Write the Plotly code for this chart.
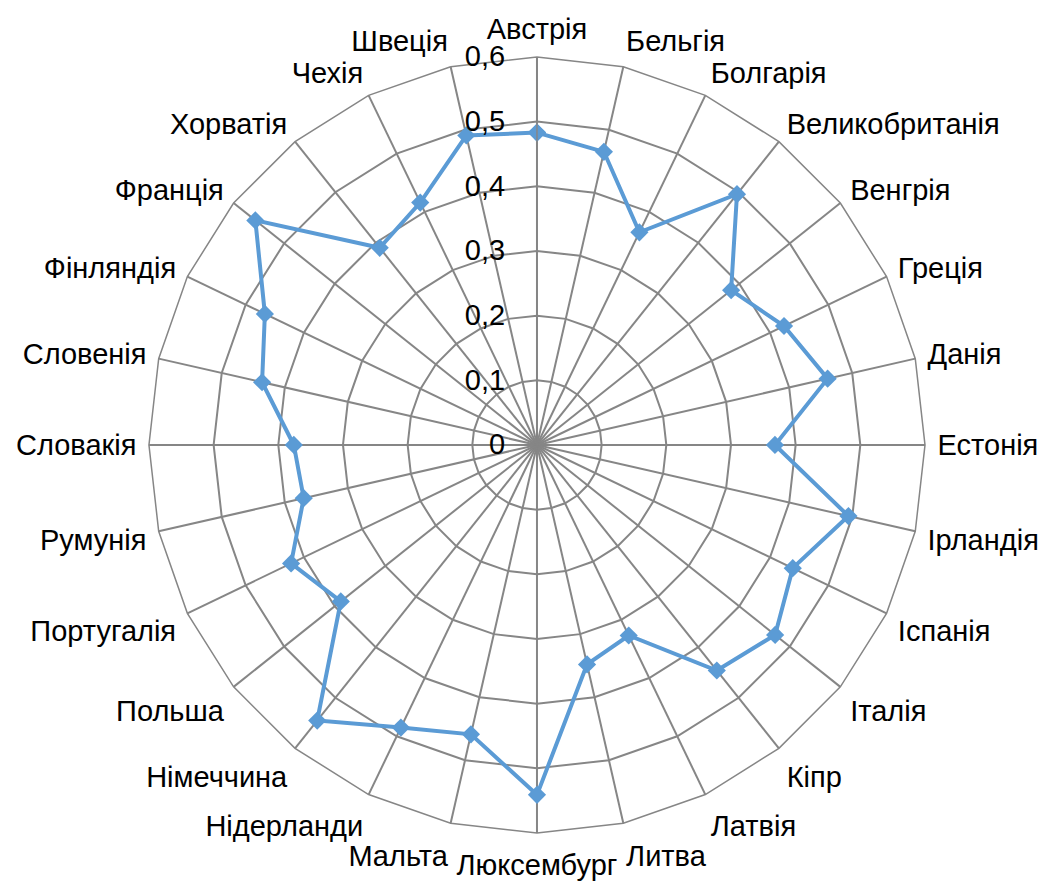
import plotly.graph_objects as go

countries = ["Австрія", "Бельгія", "Болгарія", "Великобританія", "Венгрія", "Греція",
             "Данія", "Естонія", "Ірландія", "Іспанія", "Італія", "Кіпр", "Латвія",
             "Литва", "Люксембург", "Мальта", "Нідерланди", "Німеччина", "Польша",
             "Португалія", "Румунія", "Словакія", "Словенія", "Фінляндія", "Франція",
             "Хорватія", "Чехія", "Швеція"]
values = [0.483, 0.465, 0.365, 0.496, 0.384, 0.424,
          0.461, 0.368, 0.494, 0.439, 0.471, 0.446, 0.327,
          0.348, 0.541, 0.459, 0.485, 0.545, 0.388,
          0.422, 0.370, 0.376, 0.436, 0.467, 0.557,
          0.390, 0.416, 0.491]
r_ticks = [0, 0.1, 0.2, 0.3, 0.4, 0.5, 0.6]
r_ticktext = ["0", "0,1", "0,2", "0,3", "0,4", "0,5", "0,6"]

FONT = "Arial, Liberation Sans, sans-serif"
GRID = "#868686"

fig = go.Figure()
fig.add_trace(go.Scatterpolar(
    r=values + values[:1],
    theta=countries + countries[:1],
    mode="lines+markers",
    line=dict(color="#5B9BD5", width=4),
    marker=dict(symbol="diamond", size=14, color="#5B9BD5"),
    showlegend=False,
))

fig.update_layout(
    width=1048, height=881,
    margin=dict(l=0, r=0, t=0, b=0),
    paper_bgcolor="white",
    font=dict(family=FONT, size=29, color="black"),
    polar=dict(
        domain=dict(x=[0.1345, 0.8750], y=[0.0630, 0.9450]),
        bgcolor="white",
        gridshape="linear",
        angularaxis=dict(
            rotation=90, direction="clockwise",
            categoryorder="array", categoryarray=countries,
            showline=True, linecolor=GRID, linewidth=1.5,
            gridcolor=GRID, gridwidth=1.5,
            ticks="outside", ticklen=6, tickcolor="rgba(0,0,0,0)",
            tickfont=dict(size=29, family=FONT, color="black"),
        ),
        radialaxis=dict(
            range=[0, 0.6], angle=90, side="counterclockwise",
            tickvals=r_ticks, ticktext=r_ticktext,
            showline=True, linecolor=GRID, linewidth=1.5,
            gridcolor=GRID, gridwidth=1.5,
            ticks="outside", ticklen=21, tickcolor="rgba(0,0,0,0)",
            tickangle=90,
            tickfont=dict(size=29, family=FONT, color="black"),
        ),
    ),
)

fig.write_html("out.html")
